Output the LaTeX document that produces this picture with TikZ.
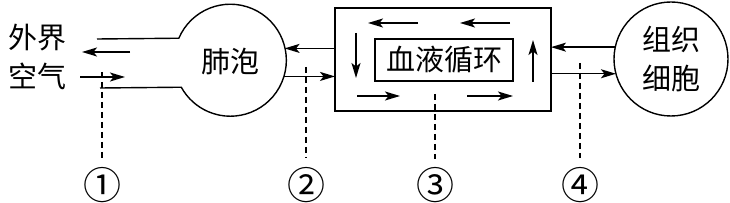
\documentclass[tikz,border=0pt]{standalone}
\usepackage{fontspec}
\newfontfamily\cjk{Noto Sans CJK SC}
\usetikzlibrary{arrows.meta}
\begin{document}
\begin{tikzpicture}[x=1pt,y=1pt,line width=1.4pt,
  arr/.style={-{Stealth[length=15pt,width=9pt,inset=3.5pt]}},
  guide/.style={line width=1.2pt,dash pattern=on 6pt off 4pt},
  num/.style={font=\cjk\fontsize{38}{40}\selectfont,inner sep=0pt},
  every node/.style={font=\cjk\fontsize{29}{39}\selectfont}]
\useasboundingbox (0,0) rectangle (730,203);
\node[align=center] (air) at (38,146) {外界\\空气};
\node[circle,minimum size=112,inner sep=0,outer sep=0] (alv) at (230,142) {肺泡};
\coordinate (tubeU) at (97,164);
\coordinate (tubeL) at (100,115);
\draw (tubeU) -- (alv.156.87) arc[start angle=156.87,end angle=-151.17,radius=56] -- (tubeL);
\coordinate (outA) at (130,151);
\coordinate (outB) at (82,151);
\coordinate (inA) at (80,126);
\coordinate (inB) at (125,126);
\draw[arr] (outA) -- (outB);
\draw[arr] (inA) -- (inB);
\node[draw,minimum width=216,minimum height=103,outer sep=0] (blood) at (443,143.5) {};
\node[draw,minimum width=138,minimum height=42,inner sep=0] (loop) at (444,143) {血液循环};
\draw[arr] (418,180) -- (368,180);
\draw[arr] (510,180) -- (460,180);
\draw[arr] (356,170) -- (356,125);
\draw[arr] (533,121) -- (533,163);
\draw[arr] (357,107) -- (400,107);
\draw[arr] (467,107) -- (513,107);
\draw[arr] (blood.west |- alv.13.4) -- (alv.13.4);
\draw[arr] (alv.-16.6) -- (blood.west |- alv.-16.6);
\node[circle,draw,minimum size=114,inner sep=0,outer sep=0,align=center] (cell) at (671,144) {组织\\细胞};
\draw[arr] (cell.168.9) -- (blood.east |- cell.168.9);
\draw[arr] (blood.east |- cell.195.3) -- (cell.195.3);
\node[num] (n1) at (102,18) {①};
\node[num] (n2) at (306,18) {②};
\node[num] (n3) at (435,18) {③};
\node[num] (n4) at (580,18) {④};
\coordinate (g1) at (102,131);
\coordinate (g2) at (306,136);
\coordinate (g3) at (435,109);
\coordinate (g4) at (580,140);
\coordinate (e1) at (102,44);
\coordinate (e2) at (306,45);
\coordinate (e3) at (435,44);
\coordinate (e4) at (580,45);
\draw[guide] (g1) -- (e1);
\draw[guide] (g2) -- (e2);
\draw[guide] (g3) -- (e3);
\draw[guide] (g4) -- (e4);
\end{tikzpicture}
\end{document}
